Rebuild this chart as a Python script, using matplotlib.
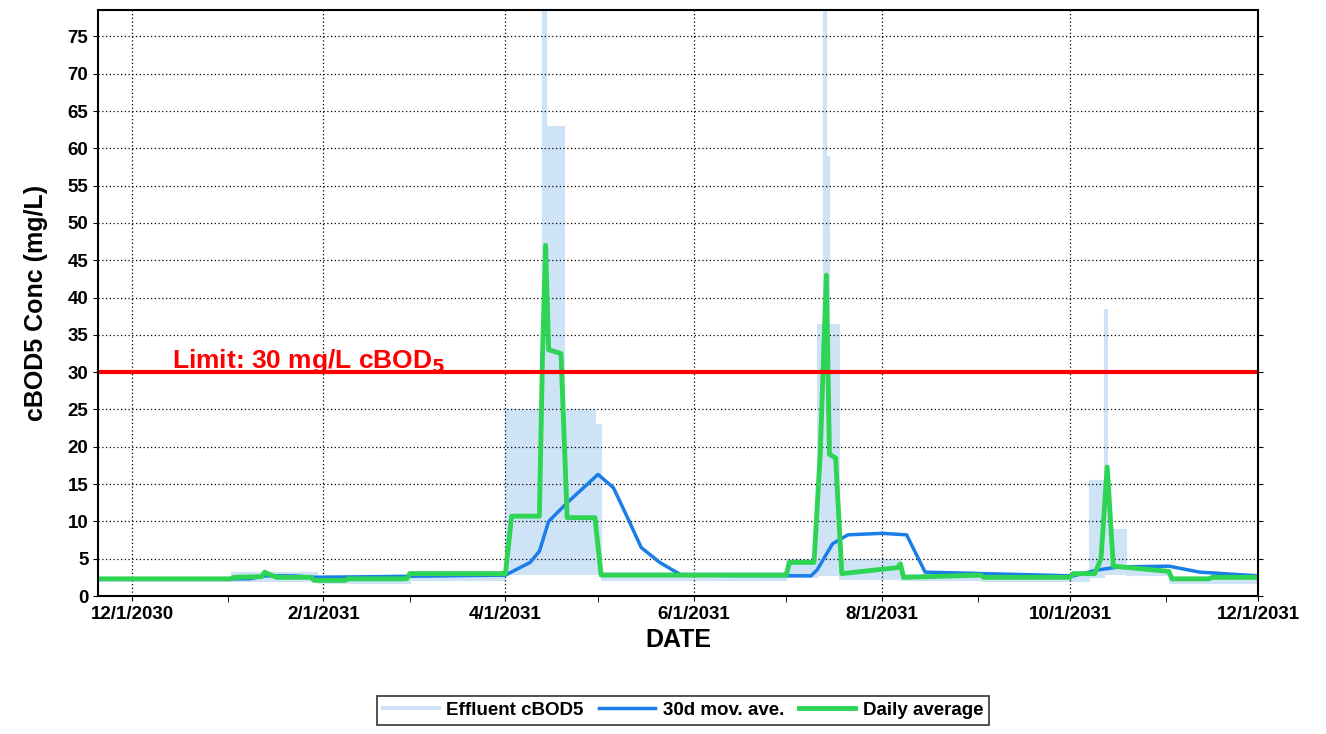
import datetime as dt
import matplotlib
matplotlib.use("Agg")
import matplotlib.pyplot as plt
import matplotlib.dates as mdates

plt.rcParams['font.family'] = ['Liberation Sans', 'DejaVu Sans']
plt.rcParams['font.weight'] = 'bold'

base = dt.date(2030, 12, 1)

# effluent cBOD5 envelope (day offset from 12/1/2030, low, high), step post
eff_day = [-11, 32, 60, 90, 121, 133, 133.3, 134.5, 140, 150, 152, 212, 222, 224.8, 225.8, 226.6, 227, 229, 249, 251, 275, 310, 315.4, 316.4, 317, 322, 336, 365]
eff_low = [2.0, 2.0, 1.8, 2.2, 3.0, 3.0, 3.0, 3.0, 3.0, 3.0, 2.2, 2.5, 2.8, 2.8, 2.8, 2.8, 2.8, 2.3, 2.2, 2.2, 2.0, 2.5, 3.0, 3.0, 3.0, 2.8, 1.8, 1.8]
eff_high = [2.6, 3.2, 2.8, 3.4, 25.0, 63.0, 79.0, 63.0, 25.0, 23.0, 3.2, 5.0, 36.5, 79.0, 59.0, 36.5, 36.5, 5.0, 3.0, 3.0, 2.8, 15.5, 38.5, 15.5, 9.0, 3.5, 2.6, 2.6]

# 30 day moving average
ma_day = [-11, 38, 43, 52, 60, 121, 129, 132, 135, 141, 151, 156, 160, 165, 171, 178, 220, 222, 227, 232, 243, 251, 257, 305, 313, 320, 336, 346, 365]
ma_val = [2.3, 2.3, 2.7, 2.7, 2.5, 2.8, 4.5, 6.0, 10.0, 12.5, 16.3, 14.5, 11.0, 6.5, 4.5, 2.8, 2.7, 3.5, 7.0, 8.2, 8.4, 8.2, 3.2, 2.7, 3.5, 3.9, 4.0, 3.2, 2.7]

# daily average
da_day = [-11, 32, 33, 42, 43, 45, 47, 58, 59, 69, 70, 89, 90, 121, 123, 132, 133, 134, 135, 139, 141.5, 150, 152, 212, 213, 221.5, 223, 225, 226, 228, 230, 248, 249, 250.6, 275, 276, 304, 305.7, 312, 314, 316.4, 318.6, 336, 337, 349, 350, 365]
da_val = [2.3, 2.3, 2.5, 2.6, 3.2, 2.8, 2.5, 2.5, 2.1, 2.1, 2.3, 2.3, 3.0, 3.0, 10.7, 10.7, 32.0, 47.0, 33.0, 32.5, 10.5, 10.5, 2.8, 2.8, 4.5, 4.5, 19.0, 43.0, 19.0, 18.5, 3.0, 3.8, 4.3, 2.5, 2.8, 2.5, 2.5, 3.0, 3.0, 5.0, 17.3, 4.0, 3.3, 2.3, 2.3, 2.5, 2.5]

limit = 30


def to_dates(days):
    return [base + dt.timedelta(days=d) for d in days]


fig = plt.figure(figsize=(13.26, 7.34), dpi=100)
ax = fig.add_axes([0.074, 0.188, 0.875, 0.798])

ax.fill_between(to_dates(eff_day), eff_low, eff_high, step='post', color='#cfe3f7', linewidth=0.8, edgecolor='#cfe3f7')
ax.plot([], [], color='#cfe3f7', lw=3, label='Effluent cBOD5')
ax.plot(to_dates(ma_day), ma_val, color='#1a7de8', lw=2.5, label='30d mov. ave.')
ax.plot(to_dates(da_day), da_val, color='#2ed454', lw=3.5, label='Daily average')
ax.axhline(limit, color='#ff0000', lw=3)
ax.text(to_dates([13])[0], limit + 0.6, r"Limit: 30 mg/L cBOD$_\mathbf{5}$", color='#ff0000',
        fontsize=19, fontweight='bold')

ax.set_xlim(to_dates([-11])[0], to_dates([365])[0])
ax.set_ylim(0, 78.5)
ax.set_yticks(range(0, 80, 5))
ax.xaxis.set_major_locator(mdates.MonthLocator(bymonth=[2, 4, 6, 8, 10, 12]))
ax.xaxis.set_minor_locator(mdates.MonthLocator())
ax.xaxis.set_major_formatter(mdates.DateFormatter('%-m/%-d/%Y'))
ax.grid(True, color='black', linestyle=(0, (1, 2)), lw=0.9)
ax.tick_params(labelsize=13.5, right=True, direction='out')
ax.tick_params(which='minor', length=4)
for s in ax.spines.values():
    s.set_linewidth(1.5)

ax.set_xlabel('DATE', fontsize=18, fontweight='bold')
ax.set_ylabel('cBOD5 Conc (mg/L)', fontsize=18, fontweight='bold', labelpad=14)

leg = fig.legend(loc='lower center', bbox_to_anchor=(0.515, 0.0), ncol=3, fontsize=13.5, frameon=True,
                 fancybox=False, edgecolor='black', handlelength=3, columnspacing=0.8,
                 borderpad=0.3, handletextpad=0.4)
leg.get_frame().set_linewidth(1.2)

fig.savefig('out.png', dpi=100)
